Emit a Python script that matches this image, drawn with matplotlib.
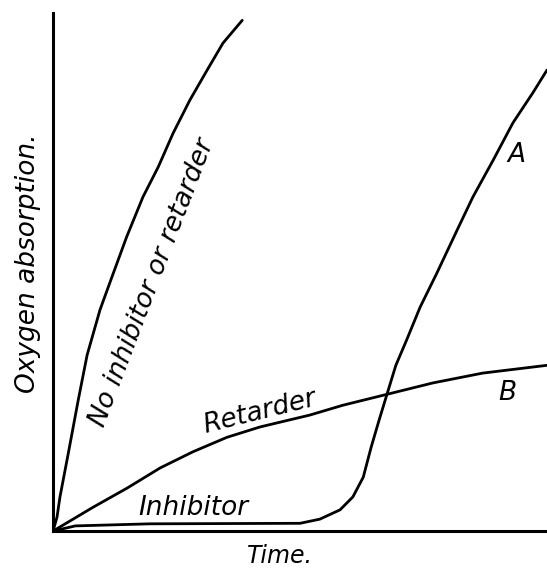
import matplotlib
matplotlib.use('Agg')
import matplotlib.pyplot as plt

# curves (time and oxygen in arbitrary units, 0-100)
t_none = [0, 0.8, 1.4, 3.2, 5.1, 6.9, 9.5, 11.9, 14.9, 18.2, 21.3, 24.3, 27.7, 31.2, 34.4, 38.3]
o_none = [0, 2.7, 6.6, 15.6, 25.3, 34.0, 42.7, 49.0, 56.8, 64.5, 70.3, 76.8, 83.2, 89.0, 94.2, 98.6]

t_ret = [0, 1.4, 8.1, 15.0, 21.7, 28.3, 35.2, 41.9, 52.0, 58.7, 67.6, 76.9, 87.0, 100]
o_ret = [0, 0.8, 4.6, 8.3, 12.2, 15.3, 18.1, 20.1, 22.4, 24.3, 26.4, 28.6, 30.5, 32.0]

t_inh = [0, 4.5, 19.6, 50.0, 54.0, 58.1, 60.7, 62.8, 64.4, 66.0, 67.6, 69.4, 71.5,
         74.3, 77.7, 81.8, 85.0, 89.1, 93.1, 97.2, 100]
o_inh = [0, 1.0, 1.4, 1.5, 2.3, 4.1, 6.6, 10.4, 16.2, 21.4, 26.4, 32.0, 36.7,
         43.2, 49.8, 58.1, 64.5, 71.6, 78.8, 84.7, 89.0]

plt.rcParams['font.family'] = ['DejaVu Sans']
plt.rcParams['font.style'] = 'italic'

fig = plt.figure(figsize=(5.47, 5.68), dpi=100)
ax = fig.add_axes([0.097, 0.065, 0.903, 0.912])

lw = 2.0
ax.plot(t_none, o_none, color='black', lw=lw, solid_capstyle='round', solid_joinstyle='round')
ax.plot(t_ret, o_ret, color='black', lw=lw, solid_capstyle='round', solid_joinstyle='round')
ax.plot(t_inh, o_inh, color='black', lw=lw, solid_capstyle='round', solid_joinstyle='round')

ax.set_xlim(0, 100)
ax.set_ylim(0, 100)
for s in ['top', 'right']:
    ax.spines[s].set_visible(False)
for s in ['left', 'bottom']:
    ax.spines[s].set_linewidth(2.2)
ax.set_xticks([])
ax.set_yticks([])

ax.text(20.0, 47.9, 'No inhibitor or retarder', rotation=69, fontsize=19,
        ha='center', va='center', rotation_mode='anchor')
ax.text(41.9, 23.0, 'Retarder', rotation=14, fontsize=19,
        ha='center', va='center', rotation_mode='anchor')
ax.text(28.5, 4.4, 'Inhibitor', fontsize=19, ha='center', va='center')
ax.text(93.9, 72.6, 'A', fontsize=19, ha='center', va='center')
ax.text(91.9, 26.6, 'B', fontsize=19, ha='center', va='center')

fig.text(0.512, 0.022, 'Time.', fontsize=17, ha='center', va='center')
fig.text(0.051, 0.537, 'Oxygen absorption.', rotation=90, fontsize=19,
         ha='center', va='center')

fig.savefig('out.png', dpi=100, facecolor='white')
